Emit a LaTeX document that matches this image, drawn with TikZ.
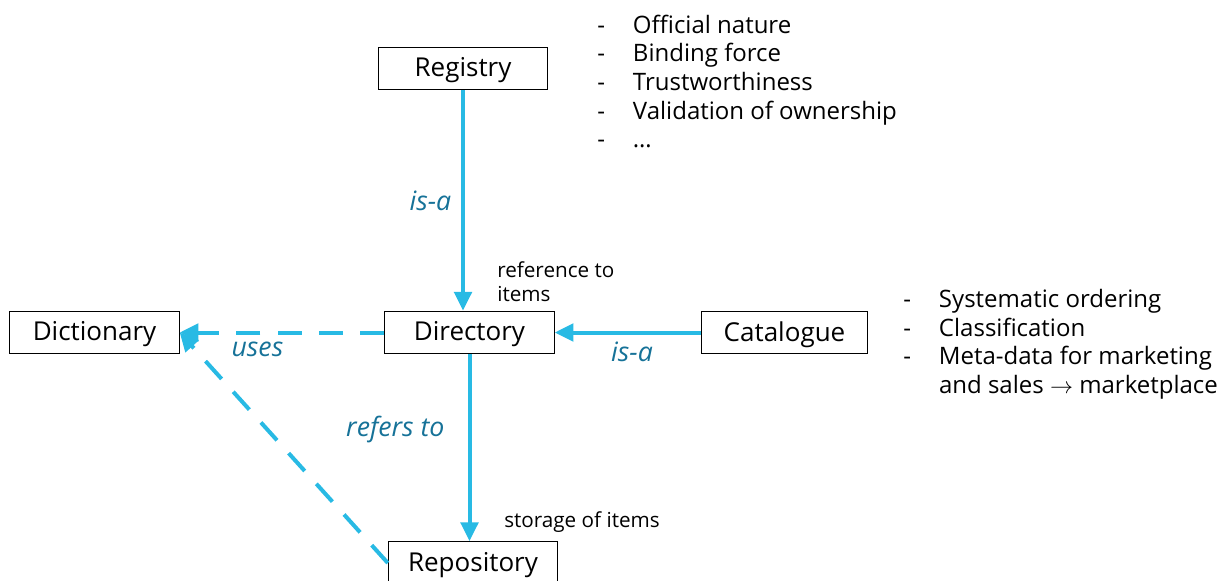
\documentclass[tikz,border=0pt]{standalone}
\usepackage{fontspec}
\setmainfont{Open Sans}
\usetikzlibrary{arrows.meta, positioning}
\definecolor{linkblue}{RGB}{40,186,228}
\definecolor{labelteal}{RGB}{22,114,152}

\begin{document}
\begin{tikzpicture}[x=0.75pt, y=-0.75pt,
  box/.style={draw, line width=0.8pt, align=center, font=\fontsize{19.5}{22}\selectfont,
              minimum width=127pt, minimum height=32pt, inner sep=2pt, text depth=2pt},
  ar/.style={draw=linkblue, line width=3pt, -{Triangle[length=14pt, width=13pt]}, linkblue},
  dashar/.style={ar, dash pattern=on 18pt off 13pt},
  lbl/.style={text=labelteal, font=\fontsize{20}{22}\selectfont\itshape},
  note/.style={font=\fontsize{15.5}{18.5}\selectfont, align=left, inner sep=0pt},
  bullets/.style={font=\fontsize{18}{21.5}\selectfont, inner sep=0pt, anchor=north west}]
\useasboundingbox (0,0) rectangle (1223,581);
% boxes
\node[box] (reg) at (463,68.5) {Registry};
\node[box] (dir) at (469.5,332.5) {Directory};
\node[box] (dict) at (94.5,332.5) {Dictionary};
\node[box, minimum width=125pt] (cat) at (784.5,332.5) {Catalogue};
\node[box] (repo) at (473,563) {Repository};
% connectors
\draw[ar] (reg) -- (reg |- dir.north) node[lbl, pos=0.5, left=4pt] (isa1) {is-a};
\draw[ar] (cat) -- (dir) node[lbl, pos=0.47, below=2pt] (isa2) {is-a};
\draw[ar] (dir) -- (dir.south |- repo.north) node[lbl, pos=0.4, left=14pt] (refers) {refers to};
\draw[dashar] (dir) -- (dict) node[lbl, pos=0.62, below=2pt] (uses) {uses};
\draw[dashar] (repo.west) -- (dict.east);
% annotations
\node[note, anchor=north west] (refnote) at (497,261) {reference to\\items};
\node[note, anchor=west] (storenote) at (504,522) {storage of items};
\node[bullets] (reglist) at (597,13) {%
  \begin{tabular}{@{}l@{\hspace{21pt}}l@{}}
  - & Official nature\\
  - & Binding force\\
  - & Trustworthiness\\
  - & Validation of ownership\\
  - & \dots
  \end{tabular}};
\node[bullets] (catlist) at (903,287) {%
  \begin{tabular}{@{}l@{\hspace{21pt}}l@{}}
  - & Systematic ordering\\
  - & Classification\\
  - & Meta-data for marketing\\
    & and sales $\rightarrow$ marketplace
  \end{tabular}};
\end{tikzpicture}
\end{document}
